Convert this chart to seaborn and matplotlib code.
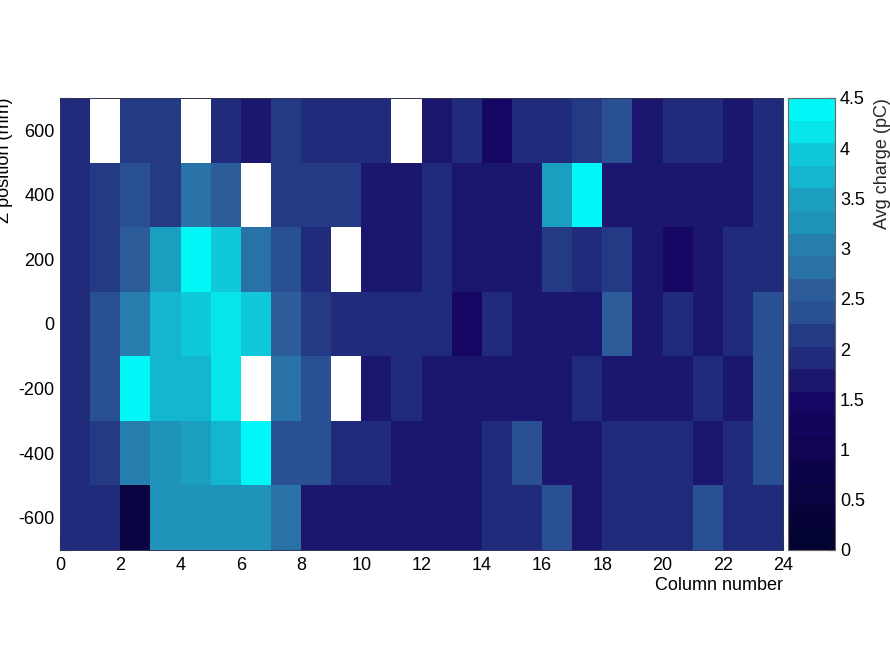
import numpy as np
import pandas as pd
import matplotlib
matplotlib.use("Agg")
import matplotlib.pyplot as plt
import seaborn as sns
from matplotlib.colors import LinearSegmentedColormap, ListedColormap, BoundaryNorm
from matplotlib.ticker import MultipleLocator, FixedLocator, FixedFormatter

sns.set_theme(style="white")
plt.rcParams["font.family"] = ["Liberation Sans", "DejaVu Sans"]

# ---------------- data (average charge in pC) ----------------
columns = list(range(24))
z_centers = [600, 400, 200, 0, -200, -400, -600]   # mm, bin centres (bin width 200 mm)

charge_z600 = [1.91, 4.8, 2.14, 2.14, 4.8, 1.91, 1.69, 2.14, 1.91, 1.91, 1.91, 4.8,
               1.69, 1.91, 1.46, 1.91, 1.91, 2.14, 2.36, 1.69, 1.91, 1.91, 1.69, 1.91]
charge_z400 = [1.91, 2.14, 2.36, 2.14, 2.81, 2.59, 4.8, 2.14, 2.14, 2.14, 1.69, 1.69,
               1.91, 1.69, 1.69, 1.69, 3.49, 4.39, 1.69, 1.69, 1.69, 1.69, 1.69, 1.91]
charge_z200 = [1.91, 2.14, 2.59, 3.49, 4.39, 3.94, 2.81, 2.36, 1.91, 4.8, 1.69, 1.69,
               1.91, 1.69, 1.69, 1.69, 2.14, 1.91, 2.14, 1.69, 1.46, 1.69, 1.91, 1.91]
charge_z0 = [1.91, 2.36, 3.04, 3.71, 3.94, 4.16, 3.94, 2.59, 2.14, 1.91, 1.91, 1.91,
             1.91, 1.46, 1.91, 1.69, 1.69, 1.69, 2.59, 1.69, 1.91, 1.69, 1.91, 2.36]
charge_zm200 = [1.91, 2.36, 4.39, 3.71, 3.71, 4.16, 4.8, 2.81, 2.36, 4.8, 1.69, 1.91,
                1.69, 1.69, 1.69, 1.69, 1.69, 1.91, 1.69, 1.69, 1.69, 1.91, 1.69, 2.36]
charge_zm400 = [1.91, 2.14, 3.04, 3.26, 3.49, 3.71, 4.39, 2.36, 2.36, 1.91, 1.91, 1.69,
                1.69, 1.69, 1.91, 2.36, 1.69, 1.69, 1.91, 1.91, 1.91, 1.69, 1.91, 2.36]
charge_zm600 = [1.91, 1.91, 0.56, 3.26, 3.26, 3.26, 3.26, 2.81, 1.69, 1.69, 1.69, 1.69,
                1.69, 1.69, 1.91, 1.91, 2.36, 1.69, 1.91, 1.91, 1.91, 2.36, 1.91, 1.91]

x_tick_values = list(range(0, 25, 2))
x_tick_labels = [str(v) for v in x_tick_values]
y_tick_values = [-600, -400, -200, 0, 200, 400, 600]
y_tick_labels = ["-600", "-400", "-200", "0", "200", "400", "600"]
cbar_tick_values = [0, 0.5, 1, 1.5, 2, 2.5, 3, 3.5, 4, 4.5]
cbar_tick_labels = ["0", "0.5", "1", "1.5", "2", "2.5", "3", "3.5", "4", "4.5"]

z_top, bin_height = 700, 200
z_max_charge, n_levels = 4.5, 20

data = pd.DataFrame([charge_z600, charge_z400, charge_z200, charge_z0,
                     charge_zm200, charge_zm400, charge_zm600],
                    index=z_centers, columns=columns)

# ---------------- ROOT "Deep Sea" style palette, 20 contour levels ----------------
stops = [0.0, 0.34, 0.61, 0.84, 1.0]
red = [0.00, 0.09, 0.18, 0.09, 0.00]
green = [0.01, 0.02, 0.39, 0.68, 0.97]
blue = [0.17, 0.39, 0.62, 0.79, 0.97]
base = LinearSegmentedColormap("deepsea", {
    "red": [(s, v, v) for s, v in zip(stops, red)],
    "green": [(s, v, v) for s, v in zip(stops, green)],
    "blue": [(s, v, v) for s, v in zip(stops, blue)],
})
ncol = 50
level_colors = [base(min(int((i + 0.99) * ncol / n_levels), ncol - 1) / (ncol - 1))
                for i in range(n_levels)]
cmap = ListedColormap(level_colors)
cmap.set_over("white")
norm = BoundaryNorm(np.linspace(0, z_max_charge, n_levels + 1), n_levels)

# ---------------- figure ----------------
W, H = 890, 665
fig = plt.figure(figsize=(W / 100, H / 100), dpi=100)
ax = fig.add_axes([60 / W, 1 - 550 / H, 723 / W, 452 / H])
cax = fig.add_axes([788 / W, 1 - 550 / H, 47 / W, 452 / H])

sns.heatmap(data, ax=ax, cmap=cmap, norm=norm, cbar=True, cbar_ax=cax,
            xticklabels=False, yticklabels=False, linewidths=0)

# x axis: column number (cell index == column number)
ax.xaxis.set_major_locator(FixedLocator(x_tick_values))
ax.xaxis.set_major_formatter(FixedFormatter(x_tick_labels))
ax.xaxis.set_minor_locator(MultipleLocator(0.5))

# y axis: z position in mm mapped onto heatmap rows (row 0 at top)
def z_to_row(z):
    return (z_top - z) / bin_height

ax.yaxis.set_major_locator(FixedLocator([z_to_row(z) for z in y_tick_values]))
ax.yaxis.set_major_formatter(FixedFormatter(y_tick_labels))
ax.yaxis.set_minor_locator(FixedLocator([z_to_row(z) for z in range(-700, 701, 50)]))

ax.tick_params(axis="both", which="both", direction="in", colors="black",
               labelsize=13, bottom=True, left=True, top=False, right=False, width=0.8)
ax.tick_params(axis="x", which="major", length=9.5, pad=5)
ax.tick_params(axis="x", which="minor", length=4.7)
ax.tick_params(axis="y", which="major", length=15.6, pad=4)
ax.tick_params(axis="y", which="minor", length=7.8)
for lab in ax.get_xticklabels() + ax.get_yticklabels():
    lab.set_rotation(0)

for side in ["left", "bottom", "top", "right"]:
    ax.spines[side].set_visible(True)
    ax.spines[side].set_linewidth(0.7)
    ax.spines[side].set_color("#333355")

ax.set_xlabel("Column number", loc="right", fontsize=13, labelpad=2, color="black")
ax.set_ylabel("Z position (mm)", fontsize=13, color="black", loc="top")
ax.yaxis.set_label_coords(-0.065, 1.0)

# colour bar
cb = ax.collections[0].colorbar
cb.set_ticks(cbar_tick_values)
cb.set_ticklabels(cbar_tick_labels)
cb.outline.set_linewidth(0.8)
cb.outline.set_edgecolor("#666666")
cax.tick_params(axis="y", which="major", direction="in", right=True, length=5.8,
                width=0.8, pad=3.5, labelsize=13, colors="black")
cax.minorticks_off()
cb.set_label("Avg charge (pC)", fontsize=13, loc="top")
cax.yaxis.set_label_coords(1.83, 1.0)

fig.savefig("out.png", dpi=100, facecolor="white")
